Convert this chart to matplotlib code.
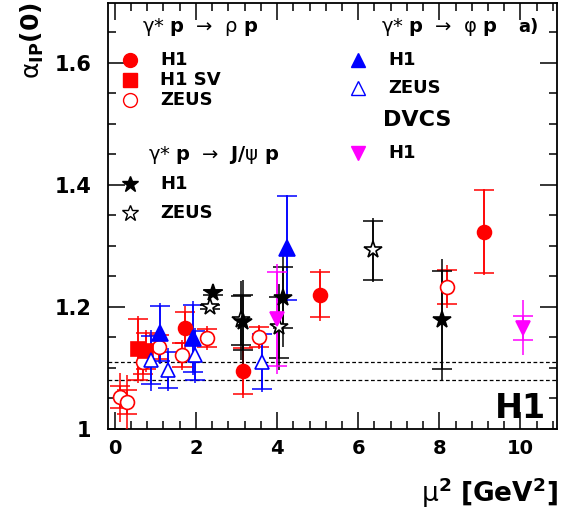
import matplotlib.pyplot as plt
from matplotlib.ticker import MultipleLocator, FuncFormatter

plt.rcParams['font.family'] = ['DejaVu Sans']
plt.rcParams['mathtext.fontset'] = 'dejavusans'

# rho: H1, H1 SV, ZEUS
rho_h1_x = [1.73, 3.16, 5.06, 9.11]
rho_h1_y = [1.166, 1.095, 1.220, 1.323]
rho_h1_stat = [0.025, 0.038, 0.037, 0.068]
rho_h1_tot = [0.035, 0.045, 0.043, 0.070]

rho_sv_x = [0.58, 0.78]
rho_sv_y = [1.131, 1.128]
rho_sv_stat = [0.050, 0.030]
rho_sv_tot = [0.055, 0.035]

rho_zeus_x = [0.12, 0.30, 0.70, 1.10, 1.65, 2.27, 3.56, 8.20]
rho_zeus_y = [1.052, 1.044, 1.110, 1.134, 1.121, 1.149, 1.151, 1.233]
rho_zeus_stat = [0.018, 0.020, 0.020, 0.020, 0.020, 0.015, 0.016, 0.028]
rho_zeus_tot = [0.040, 0.045, 0.030, 0.025, 0.025, 0.020, 0.020, 0.035]

# phi: H1, ZEUS
phi_h1_x = [1.11, 1.93, 4.25]
phi_h1_y = [1.157, 1.149, 1.297]
phi_h1_stat = [0.045, 0.055, 0.085]
phi_h1_tot = [0.050, 0.060, 0.087]

phi_zeus_x = [0.90, 1.31, 1.98, 3.63]
phi_zeus_y = [1.113, 1.097, 1.121, 1.110]
phi_zeus_stat = [0.040, 0.030, 0.040, 0.045]
phi_zeus_tot = [0.050, 0.035, 0.045, 0.050]

# J/psi: H1, ZEUS
jpsi_h1_x = [2.42, 3.15, 4.15, 8.07]
jpsi_h1_y = [1.223, 1.175, 1.215, 1.179]
jpsi_h1_stat = [0.004, 0.045, 0.050, 0.080]
jpsi_h1_tot = [0.005, 0.070, 0.080, 0.100]

jpsi_zeus_x = [2.35, 3.10, 4.05, 6.37]
jpsi_zeus_y = [1.200, 1.178, 1.167, 1.293]
jpsi_zeus_stat = [0.004, 0.040, 0.050, 0.048]
jpsi_zeus_tot = [0.005, 0.065, 0.070, 0.052]

# DVCS H1
dvcs_x = [4.00, 10.07]
dvcs_y = [1.180, 1.166]
dvcs_stat = [0.077, 0.020]
dvcs_tot = [0.090, 0.045]

band = [1.08, 1.11]

fig = plt.figure(figsize=(5.62, 5.15), dpi=100)
ax = fig.add_axes([0.192, 0.167, 0.799, 0.827])


def series(x, y, stat, tot, color, marker, ms, filled=True, z=3):
    ax.errorbar(x, y, yerr=tot, fmt='none', ecolor=color, elinewidth=1.1, capsize=0, zorder=z)
    ax.errorbar(x, y, yerr=stat, fmt='none', ecolor=color, elinewidth=1.1,
                capsize=7, capthick=1.1, zorder=z)
    ax.plot(x, y, ls='none', marker=marker, ms=ms, color=color,
            mfc=color if filled else 'white', mec=color, mew=1.2, zorder=z + 1)


for yb in band:
    ax.axhline(yb, color='black', lw=0.9, ls=(0, (3, 2)), zorder=1)

series(rho_zeus_x, rho_zeus_y, rho_zeus_stat, rho_zeus_tot, 'red', 'o', 10, False)
series(rho_sv_x, rho_sv_y, rho_sv_stat, rho_sv_tot, 'red', 's', 10)
series(rho_h1_x, rho_h1_y, rho_h1_stat, rho_h1_tot, 'red', 'o', 10)
series(phi_zeus_x, phi_zeus_y, phi_zeus_stat, phi_zeus_tot, 'blue', '^', 10, False)
series(phi_h1_x, phi_h1_y, phi_h1_stat, phi_h1_tot, 'blue', '^', 11)
series(jpsi_zeus_x, jpsi_zeus_y, jpsi_zeus_stat, jpsi_zeus_tot, 'black', '*', 13, False)
series(jpsi_h1_x, jpsi_h1_y, jpsi_h1_stat, jpsi_h1_tot, 'black', '*', 13)
series(dvcs_x, dvcs_y, dvcs_stat, dvcs_tot, 'magenta', 'v', 10)

ax.set_xlim(-0.17, 10.9)
ax.set_ylim(1.0, 1.698)
ax.xaxis.set_major_locator(MultipleLocator(2))
ax.xaxis.set_minor_locator(MultipleLocator(0.4))
ax.yaxis.set_major_locator(MultipleLocator(0.2))
ax.yaxis.set_minor_locator(MultipleLocator(0.05))
ax.yaxis.set_major_formatter(FuncFormatter(lambda v, p: '1' if abs(v - 1) < 1e-6 else f'{v:.1f}'))
ax.tick_params(which='both', direction='in', top=True, right=True, width=1.1)
ax.tick_params(which='major', length=12)
ax.tick_params(which='minor', length=6)
ax.tick_params(axis='y', labelsize=15, pad=12)
ax.tick_params(axis='x', labelsize=14, pad=7)
for lab in ax.get_xticklabels() + ax.get_yticklabels():
    lab.set_fontweight('bold')
for s in ax.spines.values():
    s.set_linewidth(1.3)

# legend block
tr = ax.transAxes
hdr = dict(transform=tr, fontsize=14, va='center', ha='left')
lab = dict(transform=tr, fontsize=13, va='center', ha='left', fontweight='bold')

ax.text(0.076, 0.944, 'γ* $\\mathbf{p}$  →  ρ $\\mathbf{p}$', **hdr)
rows = [(0.866, 'o', 'red', True, 'H1'), (0.819, 's', 'red', True, 'H1 SV'),
        (0.772, 'o', 'red', False, 'ZEUS')]
for yy, m, c, f, t in rows:
    ax.plot([0.049], [yy], marker=m, ms=10, color=c, mfc=c if f else 'white',
            mec=c, transform=tr, clip_on=False)
    ax.text(0.116, yy, t, **lab)

ax.text(0.090, 0.643, 'γ* $\\mathbf{p}$  →  $\\mathbf{J/}$ψ $\\mathbf{p}$', **hdr)
for yy, f, t in [(0.575, True, 'H1'), (0.507, False, 'ZEUS')]:
    ax.plot([0.049], [yy], marker='*', ms=12, color='black',
            mfc='black' if f else 'white', mec='black', transform=tr, clip_on=False)
    ax.text(0.116, yy, t, **lab)

ax.text(0.608, 0.944, 'γ* $\\mathbf{p}$  →  φ $\\mathbf{p}$', **hdr)
ax.text(0.913, 0.944, 'a)', transform=tr, fontsize=13, va='center', ha='left', fontweight='bold')
for yy, f, t in [(0.866, True, 'H1'), (0.800, False, 'ZEUS')]:
    ax.plot([0.557], [yy], marker='^', ms=10, color='blue',
            mfc='blue' if f else 'white', mec='blue', transform=tr)
    ax.text(0.624, yy, t, **lab)
ax.text(0.612, 0.725, 'DVCS', transform=tr, fontsize=16, va='center', ha='left', fontweight='bold')
ax.plot([0.557], [0.648], marker='v', ms=10, color='magenta', transform=tr)
ax.text(0.624, 0.648, 'H1', **lab)

ax.text(0.975, 0.026, 'H1', transform=tr, fontsize=24, ha='right', va='baseline', fontweight='bold')

fig.text(0.057, 0.995, 'α$_{\\mathbf{IP}}\\mathbf{(0)}$', rotation=90, fontsize=18,
         ha='center', va='top')
fig.text(0.993, 0.043, 'μ$^{\\mathbf{2}}\\ \\mathbf{[GeV}^{\\mathbf{2}}\\mathbf{]}$', fontsize=19,
         ha='right', va='center')

fig.savefig('out.png', dpi=100)
